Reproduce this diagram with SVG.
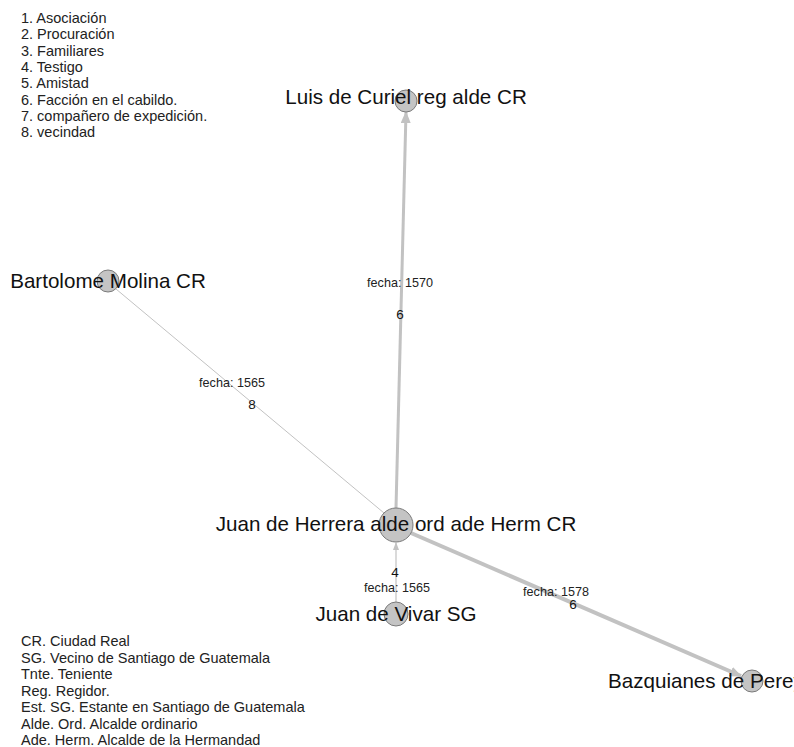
<svg xmlns="http://www.w3.org/2000/svg" width="794" height="747" viewBox="0 0 794 747">
  <style>
    .legend { font-family: "Liberation Sans", Arial, sans-serif; font-size: 14.5px; fill: #222; }
    .node circle { fill: #c4c4c4; stroke: #7a7a7a; stroke-width: 1; }
    .node text { font-family: "Liberation Sans", Arial, sans-serif; font-size: 20.6px; fill: #111; text-anchor: middle; }
    .edge { stroke: #c2c2c2; fill: none; }
    .elabel { font-family: "Liberation Sans", Arial, sans-serif; font-size: 12.6px; fill: #222; text-anchor: middle; }
    .enum { font-family: "Liberation Sans", Arial, sans-serif; font-size: 13.5px; fill: #111; text-anchor: middle; }
  </style>
  <defs>
    <marker id="arrow" markerUnits="userSpaceOnUse" markerWidth="12" markerHeight="10" refX="11" refY="5" orient="auto">
      <path d="M0,0 L12,5 L0,10 Z" fill="#c2c2c2"/>
    </marker>
    <marker id="arrowSmall" markerUnits="userSpaceOnUse" markerWidth="8" markerHeight="6" refX="7" refY="3" orient="auto">
      <path d="M0,0 L8,3 L0,6 Z" fill="#c2c2c2"/>
    </marker>
  </defs>
  <rect width="794" height="747" fill="#ffffff"/>

  <!-- relation key -->
  <g id="legend-relations" class="legend">
    <text x="21" y="23">1. Asociación</text>
    <text x="21" y="39.3">2. Procuración</text>
    <text x="21" y="55.6">3. Familiares</text>
    <text x="21" y="71.9">4. Testigo</text>
    <text x="21" y="88.2">5. Amistad</text>
    <text x="21" y="104.5">6. Facción en el cabildo.</text>
    <text x="21" y="120.8">7. compañero de expedición.</text>
    <text x="21" y="137.1">8. vecindad</text>
  </g>

  <!-- connectors -->
  <g id="connectors">
    <line class="edge" x1="396" y1="508" x2="406" y2="112" stroke-width="3" marker-end="url(#arrow)"/>
    <line class="edge" x1="116" y1="289" x2="384" y2="513" stroke-width="1"/>
    <line class="edge" x1="396" y1="602" x2="396" y2="543" stroke-width="1.2" marker-end="url(#arrowSmall)"/>
    <line class="edge" x1="411" y1="533" x2="741" y2="676" stroke-width="4" marker-end="url(#arrow)"/>
  </g>

  <!-- nodes -->
  <g id="node-curiel" class="node">
    <circle cx="406" cy="101" r="11"/>
    <text x="406" y="104">Luis de Curiel reg alde CR</text>
  </g>
  <g id="node-molina" class="node">
    <circle cx="108" cy="281" r="11"/>
    <text x="108" y="288">Bartolome Molina CR</text>
  </g>
  <g id="node-herrera" class="node">
    <circle cx="396" cy="525" r="17"/>
    <text x="396" y="531">Juan de Herrera alde ord ade Herm CR</text>
  </g>
  <g id="node-vivar" class="node">
    <circle cx="396" cy="614" r="12"/>
    <text x="396" y="621">Juan de Vivar SG</text>
  </g>
  <g id="node-bazquianes" class="node">
    <circle cx="752" cy="681" r="11"/>
    <text x="608" y="688" style="text-anchor:start">Bazquianes de Pereyra</text>
  </g>

  <!-- connector labels -->
  <g id="connector-labels">
    <text class="elabel" x="400" y="287">fecha: 1570</text>
    <text class="enum" x="400" y="319">6</text>
    <text class="elabel" x="232" y="387">fecha: 1565</text>
    <text class="enum" x="252" y="409">8</text>
    <text class="enum" x="395" y="577">4</text>
    <text class="elabel" x="397" y="592">fecha: 1565</text>
    <text class="elabel" x="556" y="596">fecha: 1578</text>
    <text class="enum" x="573" y="609">6</text>
  </g>

  <!-- abbreviation key -->
  <g id="legend-abbreviations" class="legend">
    <text x="21" y="646">CR. Ciudad Real</text>
    <text x="21" y="662.5">SG. Vecino de Santiago de Guatemala</text>
    <text x="21" y="679">Tnte. Teniente</text>
    <text x="21" y="695.5">Reg. Regidor.</text>
    <text x="21" y="712">Est. SG. Estante en Santiago de Guatemala</text>
    <text x="21" y="728.5">Alde. Ord. Alcalde ordinario</text>
    <text x="21" y="745">Ade. Herm. Alcalde de la Hermandad</text>
  </g>
</svg>
